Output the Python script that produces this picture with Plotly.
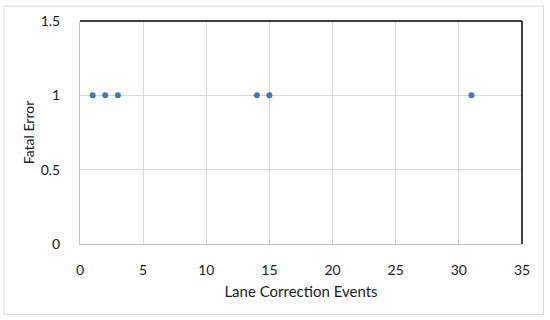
import plotly.graph_objects as go

lane_events = [1, 2, 3, 14, 15, 31]
fatal_error = [1, 1, 1, 1, 1, 1]
x_ticks = [0, 5, 10, 15, 20, 25, 30, 35]
y_ticks = [0, 0.5, 1, 1.5]
y_tick_labels = ["0", "0.5", "1", "1.5"]

fig = go.Figure(go.Scatter(
    x=lane_events, y=fatal_error, mode="markers",
    marker=dict(color="#4472C4", size=6),
))

L, R, T, B = 80, 27.5, 19, 76
W, H = 550, 320
pw, ph = W - L - R, H - T - B

fig.update_layout(
    width=W, height=H,
    margin=dict(l=L, r=R, t=T, b=B),
    paper_bgcolor="white", plot_bgcolor="white",
    font=dict(family="Lato, Open Sans, sans-serif", size=14, color="#1a1a1a"),
    showlegend=False,
    xaxis=dict(
        range=[0, 35], tickvals=x_ticks, showgrid=True, gridcolor="#D9D9D9",
        showline=True, linecolor="#BFBFBF", linewidth=1, zeroline=False,
        ticks="", ticklabelstandoff=13,
        title=dict(text="Lane Correction Events", standoff=9, font=dict(size=15)),
    ),
    yaxis=dict(
        range=[0, 1.5], tickvals=y_ticks, ticktext=y_tick_labels, showgrid=True,
        gridcolor="#D9D9D9", showline=True, linecolor="#BFBFBF", linewidth=1,
        zeroline=False, ticks="", ticklabelstandoff=16,
        title=dict(text="Fatal Error", standoff=2, font=dict(size=14)),
    ),
    shapes=[
        dict(type="rect", xref="paper", yref="paper",
             x0=(4 - L) / pw, x1=(544 - L) / pw,
             y0=(H - B - 315) / ph, y1=(H - B - 4) / ph,
             line=dict(color="#D9D9D9", width=1), layer="below"),
        dict(type="line", xref="paper", yref="paper", x0=0, x1=1, y0=1, y1=1,
             line=dict(color="#000000", width=1.5)),
        dict(type="line", xref="paper", yref="paper", x0=1, x1=1, y0=0, y1=1,
             line=dict(color="#000000", width=1.5)),
    ],
)

fig.write_html("out.html", post_script="document.body.style.margin='0';",
               config={"displayModeBar": False})
